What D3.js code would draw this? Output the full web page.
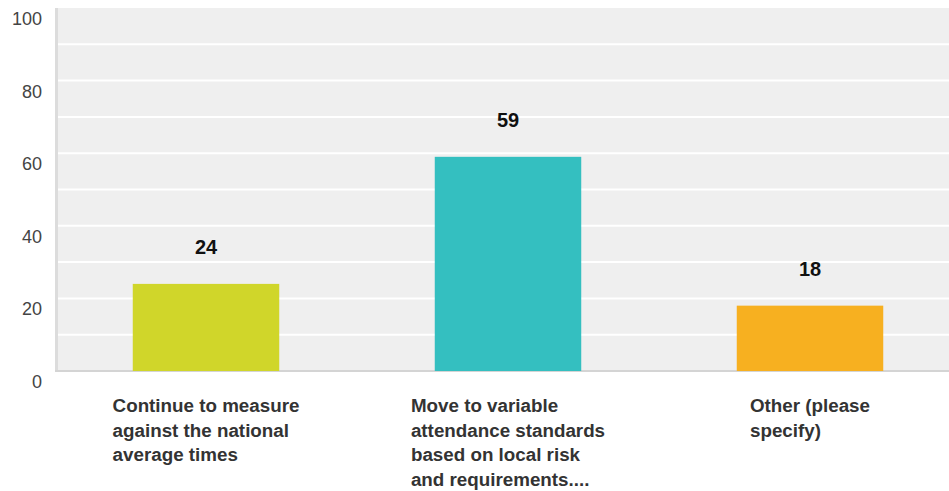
<!doctype html>
<html>
<head>
<meta charset="utf-8"/>
<style>
body{margin:0;background:#fff;}
text{font-family:"Liberation Sans",Arial,sans-serif;}
</style>
<script src="https://d3js.org/d3.v7.min.js"></script>
</head>
<body>
<script>
// data
var categories = [
  ["Continue to measure", "against the national", "average times"],
  ["Move to variable", "attendance standards", "based on local risk", "and requirements...."],
  ["Other (please", "specify)"]
];
var values = [24, 59, 18];
var colors = ["#d0d62a", "#34bfc0", "#f7b020"];
var yTicks = [0, 20, 40, 60, 80, 100];
var gridTicks = [10, 20, 30, 40, 50, 60, 70, 80, 90];

var W = 949, H = 491;
var padL = 55, padT = 8, baseY = 371, padR = 961;

var svg = d3.select("body").append("svg")
  .attr("width", W).attr("height", H);

var x = d3.scaleBand()
  .domain(d3.range(values.length))
  .range([padL, padR])
  .paddingInner(0.515).paddingOuter(0.2575);

var y = d3.scaleLinear().domain([0, 100]).range([baseY, padT]);

// background
svg.append("rect")
  .attr("x", padL).attr("y", padT)
  .attr("width", W - padL).attr("height", baseY - padT)
  .attr("fill", "#efefef");

// grid
svg.selectAll("line.grid")
  .data(gridTicks)
  .enter().append("line")
  .attr("class", "grid")
  .attr("x1", padL).attr("x2", W)
  .attr("y1", function(d){ return y(d); })
  .attr("y2", function(d){ return y(d); })
  .attr("stroke", "#ffffff").attr("stroke-width", 2);

// left band + bottom line
svg.append("rect").attr("x", padL).attr("y", padT).attr("width", 3).attr("height", baseY - padT + 1).attr("fill", "#dcdcdc");
svg.append("rect").attr("x", padL).attr("y", baseY - 1).attr("width", W - padL).attr("height", 2).attr("fill", "#d4d4d4");

// y labels
svg.selectAll("text.ytick")
  .data(yTicks)
  .enter().append("text")
  .attr("class", "ytick")
  .attr("x", 42)
  .attr("y", function(d){ return y(d) + 17; })
  .attr("text-anchor", "end")
  .attr("font-size", 18)
  .attr("fill", "#444")
  .text(function(d){ return d; });

// bars
svg.selectAll("rect.bar")
  .data(values)
  .enter().append("rect")
  .attr("class", "bar")
  .attr("x", function(d, i){ return x(i); })
  .attr("y", function(d){ return y(d); })
  .attr("width", x.bandwidth())
  .attr("height", function(d){ return y(0) - y(d); })
  .attr("fill", function(d, i){ return colors[i]; });

// value labels
svg.selectAll("text.val")
  .data(values)
  .enter().append("text")
  .attr("class", "val")
  .attr("x", function(d, i){ return x(i) + x.bandwidth() / 2; })
  .attr("y", function(d){ return y(d) - 30; })
  .attr("text-anchor", "middle")
  .attr("font-size", 20)
  .attr("font-weight", "bold")
  .attr("fill", "#111")
  .text(function(d){ return d; });

// category labels: block centred under bar, lines left aligned
categories.forEach(function(lines, i){
  var g = svg.append("g");
  var t = g.selectAll("text")
    .data(lines)
    .enter().append("text")
    .attr("y", function(d, j){ return 412 + j * 24.5; })
    .attr("font-size", 18.8)
    .attr("font-weight", "bold")
    .attr("fill", "#333")
    .text(function(d){ return d; });
  var w = d3.max(t.nodes(), function(n){ return n.getComputedTextLength(); });
  t.attr("x", x(i) + x.bandwidth() / 2 - w / 2);
});
</script>
</body>
</html>
